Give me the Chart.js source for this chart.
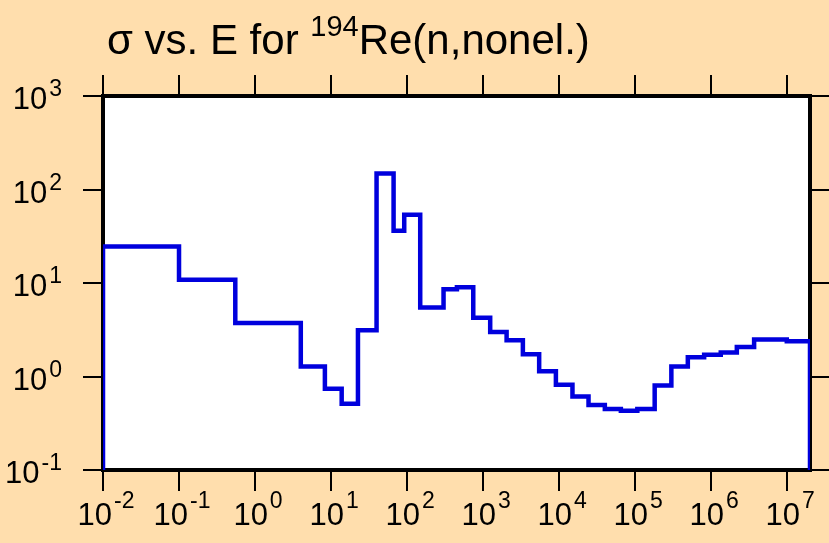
<!DOCTYPE html>
<html>
<head>
<meta charset="utf-8">
<script src="https://cdn.jsdelivr.net/npm/chart.js@4/dist/chart.umd.min.js"></script>
<style>
  html, body { margin: 0; padding: 0; background: #ffdead; }
  canvas { display: block; }
</style>
</head>
<body>
<canvas id="chart" width="829" height="543"></canvas>
<script>
// bin edges (eV) and cross section per bin (b)
const energyEdges = [0.01, 0.1, 0.55, 4.0, 8.3, 13.8, 22.6, 39.7, 66.5, 91.8,
  149, 302, 453, 743, 1241, 2040, 3340, 5470, 9080, 15000,
  24400, 40000, 65000, 107000, 181000, 300000, 494000, 810000, 1.34e6, 2.18e6,
  3.68e6, 9.9e6, 2e7];
const crossSection = [24.6, 10.8, 3.74, 1.28, 0.74, 0.51, 3.13, 148, 36.3, 53.8,
  5.48, 8.55, 9.0, 4.24, 2.99, 2.44, 1.73, 1.14, 0.815, 0.61,
  0.497, 0.45, 0.43, 0.45, 0.80, 1.28, 1.61, 1.71, 1.81, 2.07,
  2.48, 2.38];
const xDecades = [-2, -1, 0, 1, 2, 3, 4, 5, 6, 7];
const yDecades = [-1, 0, 1, 2, 3];

const xMin = 0.01, xMax = 2e7;
const yMin = 0.1, yMax = 1000;

// histogram as step points: start at floor, end back at floor
const points = [{ x: energyEdges[0], y: yMin }];
crossSection.forEach((v, i) => {
  points.push({ x: energyEdges[i], y: v });
});
points.push({ x: energyEdges[energyEdges.length - 1], y: crossSection[crossSection.length - 1] });
points.push({ x: energyEdges[energyEdges.length - 1], y: yMin });

const FONT = '"Liberation Sans", Arial, Helvetica, sans-serif';

// draw "10^n" with a real superscript
function powerLabel(ctx, n, x, y, align, big, small, rise) {
  ctx.font = big + "px " + FONT;
  const wBase = ctx.measureText("10").width;
  ctx.font = small + "px " + FONT;
  const exp = String(n);
  const wExp = ctx.measureText(exp).width;
  const gap = 2;
  const total = wBase + gap + wExp;
  let left = x;
  if (align === "center") left = x - total / 2;
  if (align === "right") left = x - total;
  ctx.textAlign = "left";
  ctx.textBaseline = "alphabetic";
  ctx.font = big + "px " + FONT;
  ctx.fillText("10", left, y);
  ctx.font = small + "px " + FONT;
  ctx.fillText(exp, left + wBase + gap, y - rise);
}

const framePlugin = {
  id: "frame",
  beforeDraw(chart) {
    const { ctx, chartArea: a } = chart;
    ctx.save();
    ctx.fillStyle = "#ffdead";
    ctx.fillRect(0, 0, chart.width, chart.height);
    ctx.fillStyle = "#ffffff";
    ctx.fillRect(a.left, a.top, a.right - a.left, a.bottom - a.top);
    ctx.restore();
  },
  beforeDatasetsDraw(chart) {
    const { ctx, chartArea: a, scales } = chart;
    const xs = scales.x, ys = scales.y;
    ctx.save();
    ctx.strokeStyle = "#000";
    ctx.lineWidth = 2;
    ctx.beginPath();
    xDecades.forEach((d) => {
      const px = Math.round(xs.getPixelForValue(Math.pow(10, d)));
      ctx.moveTo(px, a.bottom);
      ctx.lineTo(px, a.bottom + 21);
      ctx.moveTo(px, a.top);
      ctx.lineTo(px, a.top - 21);
    });
    yDecades.forEach((d) => {
      const py = Math.round(ys.getPixelForValue(Math.pow(10, d)));
      ctx.moveTo(a.left, py);
      ctx.lineTo(a.left - 20, py);
      ctx.moveTo(a.right, py);
      ctx.lineTo(a.right + 20, py);
    });
    ctx.stroke();

    ctx.lineWidth = 4;
    ctx.strokeRect(a.left, a.top, a.right - a.left, a.bottom - a.top);

    ctx.fillStyle = "#000";
    xDecades.forEach((d) => {
      const px = xs.getPixelForValue(Math.pow(10, d));
      powerLabel(ctx, d, px + 3, 525, "center", 31, 23, 17);
    });
    yDecades.forEach((d) => {
      const py = ys.getPixelForValue(Math.pow(10, d));
      powerLabel(ctx, d, 62, py + 13, "right", 31, 23, 13);
    });

    // title
    let tx = 107;
    const ty = 54;
    ctx.textAlign = "left";
    ctx.font = "42px " + FONT;
    ctx.fillText("σ vs. E for ", tx, ty);
    tx += ctx.measureText("σ vs. E for ").width;
    ctx.font = "29px " + FONT;
    ctx.fillText("194", tx, ty - 18);
    tx += ctx.measureText("194").width;
    ctx.font = "42px " + FONT;
    ctx.fillText("Re(n,nonel.)", tx, ty);
    ctx.restore();
  }
};

new Chart(document.getElementById("chart"), {
  type: "line",
  data: {
    datasets: [{
      label: "nonel",
      data: points,
      stepped: "before",
      borderColor: "#0000dd",
      borderWidth: 4.5,
      pointRadius: 0,
      fill: false,
      tension: 0
    }]
  },
  options: {
    responsive: false,
    animation: false,
    devicePixelRatio: 1,
    layout: { padding: { left: 103, right: 19, top: 96, bottom: 73 } },
    plugins: {
      legend: { display: false },
      tooltip: { enabled: false },
      title: { display: false }
    },
    scales: {
      x: { type: "logarithmic", min: xMin, max: xMax, display: false },
      y: { type: "logarithmic", min: yMin, max: yMax, display: false }
    }
  },
  plugins: [framePlugin]
});
</script>
</body>
</html>
